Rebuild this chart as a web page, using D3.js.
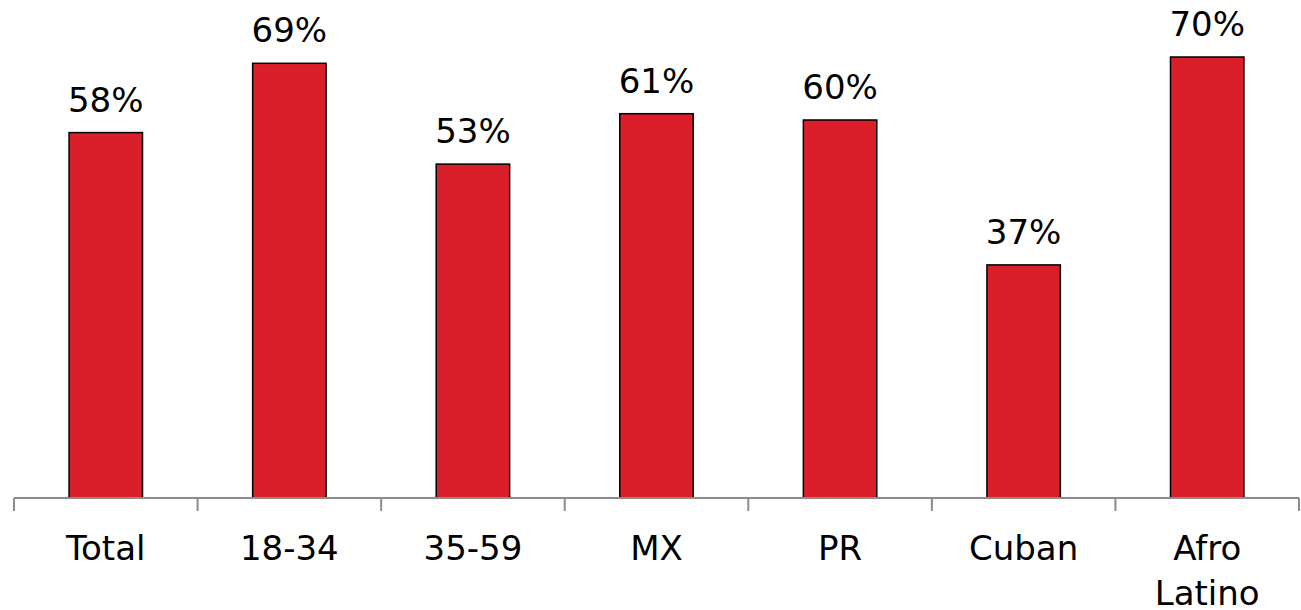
<!DOCTYPE html>
<html>
<head>
<meta charset="utf-8">
<script src="https://cdn.jsdelivr.net/npm/d3@7"></script>
<style>
  body { margin: 0; background: #fff; }
  svg { display: block; }
</style>
</head>
<body>
<script>
// chart values
const categories = ["Total", "18-34", "35-59", "MX", "PR", "Cuban", "Afro Latino"];
const values = [58, 69, 53, 61, 60, 37, 70];
const valueLabels = ["58%", "69%", "53%", "61%", "60%", "37%", "70%"];

let width = 1301,
    height = 610;

let margin = { top: 0, bottom: 112, left: 14, right: 2 };

let svg = d3.select('body')
  .append('svg')
  .attr('width', width)
  .attr('height', height);

const baseY = height - margin.bottom; // axis line

// Scales
let xScale = d3.scaleBand()
  .domain(categories)
  .range([margin.left, width - margin.right])
  .paddingInner(0.6)
  .paddingOuter(0.3);

let yScale = d3.scaleLinear()
  .domain([0, 79])
  .range([baseY, baseY - 79 * 6.3]);

const font = "'DejaVu Sans', sans-serif";

// Bars
svg.selectAll('rect.bar')
  .data(values)
  .enter()
  .append('rect')
  .attr('class', 'bar')
  .attr('x', (d, i) => xScale(categories[i]))
  .attr('y', d => yScale(d))
  .attr('width', xScale.bandwidth())
  .attr('height', d => yScale(0) - yScale(d))
  .attr('fill', '#db1f2a')
  .attr('stroke', '#000')
  .attr('stroke-width', 1.5);

// Value labels
svg.selectAll('text.val')
  .data(values)
  .enter()
  .append('text')
  .attr('class', 'val')
  .attr('x', (d, i) => xScale(categories[i]) + xScale.bandwidth() / 2)
  .attr('y', d => yScale(d) - 21)
  .attr('text-anchor', 'middle')
  .style('font-family', font)
  .style('font-size', '34px')
  .attr('fill', '#000')
  .text((d, i) => valueLabels[i]);

// Axis
let axis = svg.append('g')
  .attr('transform', `translate(0, ${baseY})`);

axis.append('line')
  .attr('x1', margin.left)
  .attr('x2', width - margin.right)
  .attr('stroke', '#8c8c8c')
  .attr('stroke-width', 2);

const step = xScale.step();
const bounds = d3.range(categories.length + 1).map(i => margin.left + i * step);
axis.selectAll('line.tick')
  .data(bounds)
  .enter()
  .append('line')
  .attr('class', 'tick')
  .attr('x1', d => d)
  .attr('x2', d => d)
  .attr('y1', 0)
  .attr('y2', 13)
  .attr('stroke', '#8c8c8c')
  .attr('stroke-width', 2);

// Category labels (wrapped on space for Afro Latino)
categories.forEach(c => {
  const cx = xScale(c) + xScale.bandwidth() / 2;
  const t = svg.append('text')
    .attr('x', cx)
    .attr('y', baseY + 62)
    .attr('text-anchor', 'middle')
    .style('font-family', font)
    .style('font-size', '34px')
    .attr('fill', '#000');
  const parts = c === "Afro Latino" ? c.split(' ') : [c];
  parts.forEach((p, j) => {
    t.append('tspan')
      .attr('x', cx)
      .attr('dy', j === 0 ? 0 : 45)
      .text(p);
  });
});
</script>
</body>
</html>
